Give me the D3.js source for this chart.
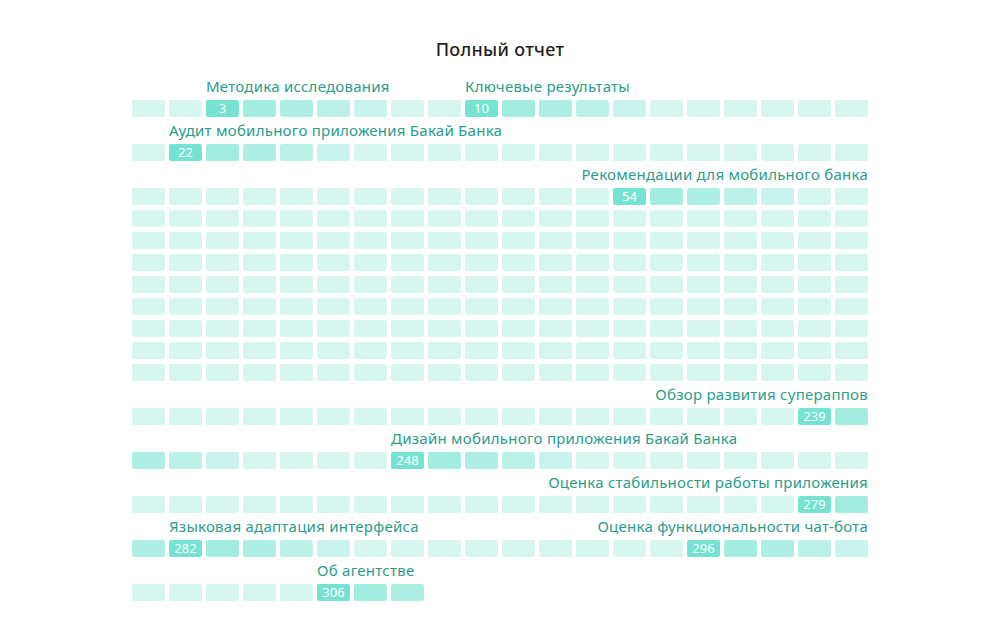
<!DOCTYPE html>
<html>
<head>
<meta charset="utf-8">
<script src="https://cdn.jsdelivr.net/npm/d3@7"></script>
<style>
  body { margin: 0; background: #fff; }
  #js_chart { width: 1000px; height: 642px; }
</style>
</head>
<body>
<div id="js_chart"></div>
<script>
// ******************************************************
// Data
// ******************************************************
const title = "Полный отчет";
const totalPages = 308;
const columns = 20;
const sectionNames = [
    "Методика исследования",
    "Ключевые результаты",
    "Аудит мобильного приложения Бакай Банка",
    "Рекомендации для мобильного банка",
    "Обзор развития супераппов",
    "Дизайн мобильного приложения Бакай Банка",
    "Оценка стабильности работы приложения",
    "Языковая адаптация интерфейса",
    "Оценка функциональности чат-бота",
    "Об агентстве"
];
const sectionPages = [3, 10, 22, 54, 239, 248, 279, 282, 296, 306];

// fade after a section start: start, +1, +2, +3, +4, then base
const fadeColors = ["#74e3d1", "#a2ece0", "#aeeee4", "#bcf1e8", "#c9f4ed"];
const baseColor = "#d7f6f0";

createPlot();

function createPlot() {

    // ******************************************************
    // Settings
    // ******************************************************
    const width = 1000, height = 642;
    const left = 132, right = 868, top = 100;
    const cellH = 17, rowStep = 22, labelSpace = 22;

    const svg = d3.select("#js_chart").append("svg")
        .attr("width", width)
        .attr("height", height);

    svg.append("text")
        .attr("x", width / 2)
        .attr("y", 56)
        .attr("text-anchor", "middle")
        .attr("font-family", "Noto Sans, sans-serif")
        .attr("font-size", 18)
        .attr("font-weight", 500)
        .attr("letter-spacing", 0.3)
        .attr("fill", "#1f1f1f")
        .text(title);

    const pages = d3.range(1, totalPages + 1).map(function (p) {
        const start = d3.max(sectionPages.filter(s => s <= p));
        return {
            page: p,
            col: (p - 1) % columns,
            row: Math.floor((p - 1) / columns),
            dist: start === undefined ? 99 : p - start,
            isStart: sectionPages.indexOf(p) >= 0
        };
    });

    const nRows = Math.ceil(totalPages / columns);
    const labeledRows = new Set(sectionPages.map(p => Math.floor((p - 1) / columns)));

    // row tops: extra room above rows holding a section label
    const rowTop = [];
    let yy = top;
    for (let r = 0; r < nRows; r++) {
        if (r > 0) yy += rowStep + (labeledRows.has(r) ? labelSpace : 0);
        rowTop.push(yy);
    }

    const x = d3.scaleBand()
        .domain(d3.range(columns))
        .range([left, right])
        .paddingInner(0.11)
        .paddingOuter(0);

    const y = d3.scaleOrdinal()
        .domain(d3.range(nRows))
        .range(rowTop);

    const color = function (d) {
        return d.dist < fadeColors.length ? fadeColors[d.dist] : baseColor;
    };

    // ******************************************************
    // Cells
    // ******************************************************
    const cells = svg.append("g").selectAll("g")
        .data(pages)
        .enter().append("g")
        .attr("transform", d => "translate(" + x(d.col) + "," + y(d.row) + ")");

    cells.append("rect")
        .attr("width", x.bandwidth())
        .attr("height", cellH)
        .attr("rx", 2)
        .attr("fill", color);

    cells.filter(d => d.isStart).append("text")
        .attr("x", x.bandwidth() / 2)
        .attr("y", cellH / 2 + 4.5)
        .attr("text-anchor", "middle")
        .attr("font-family", "Noto Sans, sans-serif")
        .attr("font-size", 13)
        .attr("fill", "#ffffff")
        .text(d => d.page);

    // ******************************************************
    // Section labels
    // ******************************************************
    svg.append("g").selectAll("text")
        .data(sectionPages)
        .enter().append("text")
        .attr("font-family", "Noto Sans, sans-serif")
        .attr("font-size", 15)
        .attr("letter-spacing", 0.25)
        .attr("fill", "#2a9d8b")
        .attr("y", p => y(Math.floor((p - 1) / columns)) - 8)
        .text((p, i) => sectionNames[i])
        .each(function (p) {
            const sx = x((p - 1) % columns);
            const w = this.getComputedTextLength();
            if (sx + w > right) {
                d3.select(this).attr("x", right).attr("text-anchor", "end");
            } else {
                d3.select(this).attr("x", sx).attr("text-anchor", "start");
            }
        });
}
</script>
</body>
</html>
